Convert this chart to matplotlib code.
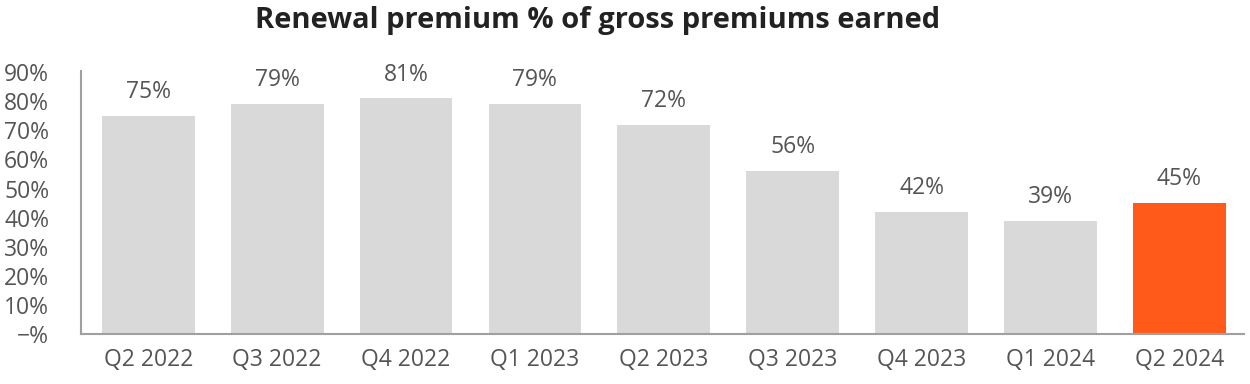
import matplotlib
matplotlib.use('Agg')
import matplotlib.pyplot as plt
from matplotlib.ticker import FuncFormatter

# data
quarters = ["Q2 2022", "Q3 2022", "Q4 2022", "Q1 2023", "Q2 2023",
            "Q3 2023", "Q4 2023", "Q1 2024", "Q2 2024"]
renewal_pct = [75, 79, 81, 79, 72, 56, 42, 39, 45]
highlight = "Q2 2024"

plt.rcParams['font.family'] = ['Open Sans', 'DejaVu Sans']
text_col = "#555555"

fig = plt.figure(figsize=(12.5, 3.84), dpi=100)
ax = fig.add_axes([0.065, 0.130, 0.930, 0.686])

colors = ["#FF5A19" if q == highlight else "#D9D9D9" for q in quarters]
x = range(len(quarters))
bars = ax.bar(x, renewal_pct, width=0.72, color=colors)

for b, v in zip(bars, renewal_pct):
    ax.text(b.get_x() + b.get_width() / 2, v + 4, f"{v}%",
            ha='center', va='bottom', fontsize=16.5, color=text_col)

ax.set_xlim(-0.52, len(quarters) - 0.5)
ax.set_ylim(0, 90.5)
ax.set_yticks(range(0, 91, 10))
ax.yaxis.set_major_formatter(FuncFormatter(lambda v, p: "\u2212%" if v == 0 else f"{int(v)}%"))
ax.set_xticks(list(x))
ax.set_xticklabels(quarters)

ax.tick_params(axis='both', length=0, labelsize=16.5, colors=text_col)
ax.tick_params(axis='x', pad=10)
ax.tick_params(axis='y', pad=23)

for s in ['top', 'right']:
    ax.spines[s].set_visible(False)
for s in ['left', 'bottom']:
    ax.spines[s].set_color('#A0A0A0')
    ax.spines[s].set_linewidth(1.5)

fig.suptitle("Renewal premium % of gross premiums earned", x=0.478, y=0.985,
             fontsize=21, fontweight='bold', color='#222222')

plt.savefig("out.png", dpi=100)
plt.close()
